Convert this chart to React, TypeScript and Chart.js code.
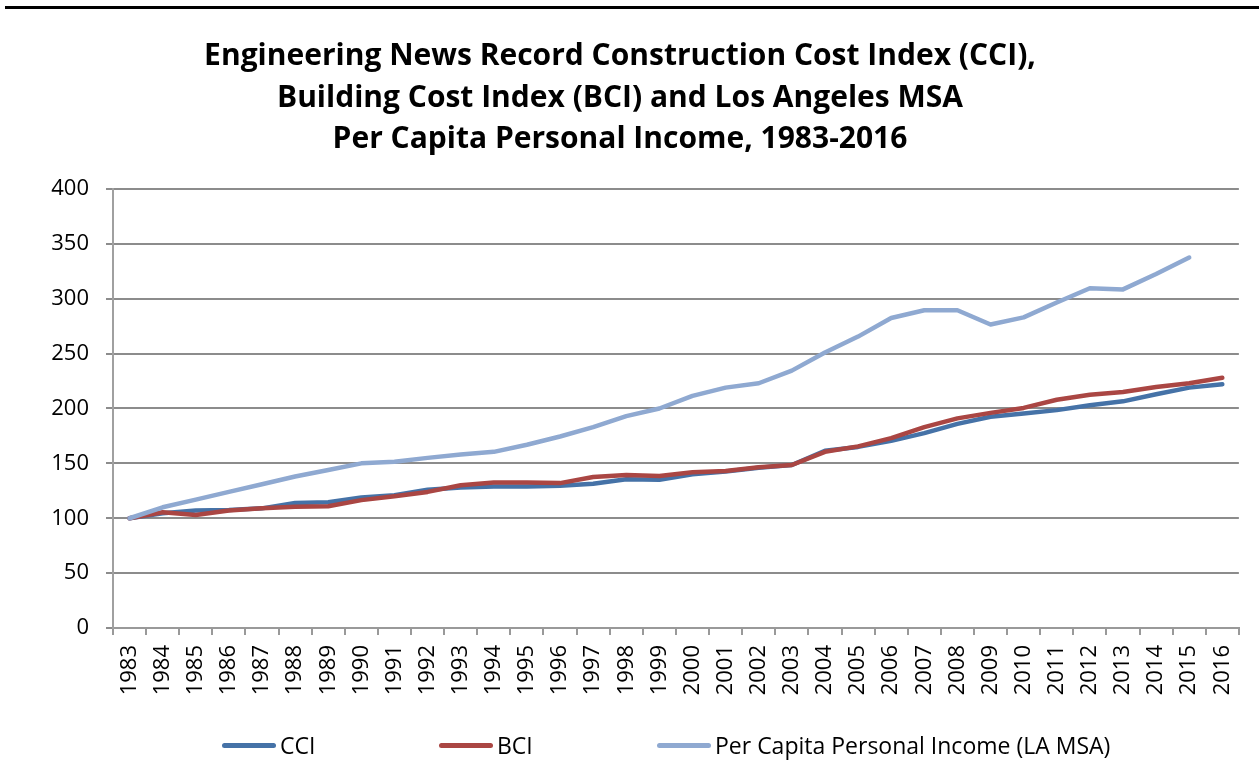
import { useEffect, useRef } from 'react';
import { Chart, registerables } from 'chart.js';

Chart.register(...registerables);

const years = ['1983','1984','1985','1986','1987','1988','1989','1990','1991','1992','1993','1994','1995','1996','1997','1998','1999','2000','2001','2002','2003','2004','2005','2006','2007','2008','2009','2010','2011','2012','2013','2014','2015','2016'];

const cci = [100, 104.5, 107, 107.5, 109, 114, 114.5, 119, 121, 126, 128, 129, 129, 129.5, 131.5, 135.5, 135, 140, 142.5, 146, 148.5, 161.5, 165, 170.5, 177.5, 186, 192.5, 195.5, 198.5, 203, 206.5, 213, 219, 222];

const bci = [100, 105.5, 103, 107, 109, 110.5, 111, 116.5, 120, 124, 130, 132.5, 132.5, 132, 137.5, 139.5, 138.5, 142, 143, 146.5, 148.5, 160.5, 165.5, 173, 183, 191, 196, 200.5, 208, 212.5, 215, 219.5, 223, 228];

const pci = [100, 110, 117, 124, 131, 138, 144, 150, 151.5, 155, 158, 160.5, 167, 174.5, 183, 193, 200, 211.5, 219, 223, 234.5, 251, 265.5, 282.5, 289.5, 289.5, 276.5, 283, 296.5, 309.5, 308.5, 322.5, 337.5, null];

const titleLines = [
  'Engineering News Record Construction Cost Index (CCI),',
  'Building Cost Index (BCI) and Los Angeles MSA',
  'Per Capita Personal Income, 1983-2016',
];

const seriesNames = ['CCI', 'BCI', 'Per Capita Personal Income (LA MSA)'];
const seriesColors = ['#4572A7', '#AA4643', '#8FA9D1'];

const FONT = "'Open Sans', 'DejaVu Sans', sans-serif";

export default function App() {
  const canvasRef = useRef<HTMLCanvasElement | null>(null);

  useEffect(() => {
    document.body.style.margin = '0';
    const canvas = canvasRef.current;
    if (!canvas) return;
    const chart = new Chart(canvas, {
      type: 'line',
      data: {
        labels: years,
        datasets: [
          { label: seriesNames[0], data: cci, borderColor: seriesColors[0], backgroundColor: seriesColors[0], order: 3 },
          { label: seriesNames[1], data: bci, borderColor: seriesColors[1], backgroundColor: seriesColors[1], order: 2 },
          { label: seriesNames[2], data: pci, borderColor: seriesColors[2], backgroundColor: seriesColors[2], order: 1 },
        ].map((d) => ({
          ...d,
          borderWidth: 4.5,
          pointRadius: 0,
          pointHoverRadius: 0,
          tension: 0,
          borderCapStyle: 'round' as const,
          borderJoinStyle: 'round' as const,
          spanGaps: false,
        })),
      },
      options: {
        responsive: false,
        animation: false,
        layout: { padding: { left: 0, right: 19, top: 0, bottom: 0 } },
        plugins: {
          legend: { display: false },
          tooltip: { enabled: false },
          title: {
            display: true,
            text: titleLines,
            color: '#000',
            font: { family: FONT, size: 30, weight: 'bold', lineHeight: 1.383 },
            padding: { top: 36, bottom: 28.5 },
          },
        },
        scales: {
          x: {
            type: 'category',
            offset: true,
            grid: {
              offset: true,
              drawOnChartArea: false,
              drawTicks: true,
              tickLength: 7,
              color: '#999999',
              lineWidth: 2,
            },
            border: { color: '#999999', width: 2 },
            ticks: {
              autoSkip: false,
              minRotation: 90,
              maxRotation: 90,
              color: '#000',
              padding: 10,
              font: { family: FONT, size: 22 },
            },
            afterFit: (s: any) => { s.height = 145; },
          },
          y: {
            min: 0,
            max: 400,
            ticks: {
              stepSize: 50,
              color: '#000',
              padding: 17,
              font: { family: FONT, size: 22 },
            },
            grid: { color: '#8c8c8c', lineWidth: 2, tickLength: 7 },
            border: { color: '#a0a0a0', width: 2 },
            afterFit: (s: any) => { s.width = 113; },
          },
        },
      },
    });
    return () => chart.destroy();
  }, []);

  const legendLeft = [222, 439, 657];

  return (
    <div style={{ position: 'relative', width: 1259, height: 773, background: '#fff', overflow: 'hidden' }}>
      <div style={{ position: 'absolute', top: 6, left: 5, right: 0, height: 3, background: '#000' }} />
      <canvas ref={canvasRef} width={1259} height={773} style={{ position: 'absolute', left: 0, top: 0 }} />
      {seriesNames.map((name, i) => (
        <div
          key={name}
          style={{
            position: 'absolute',
            left: legendLeft[i],
            top: 729,
            height: 32,
            display: 'flex',
            alignItems: 'center',
            fontFamily: FONT,
            fontSize: 23,
            color: '#000',
            whiteSpace: 'nowrap',
          }}
        >
          <span style={{ display: 'inline-block', width: 54, height: 5, borderRadius: 3, background: seriesColors[i], marginRight: 4 }} />
          <span>{name}</span>
        </div>
      ))}
    </div>
  );
}
